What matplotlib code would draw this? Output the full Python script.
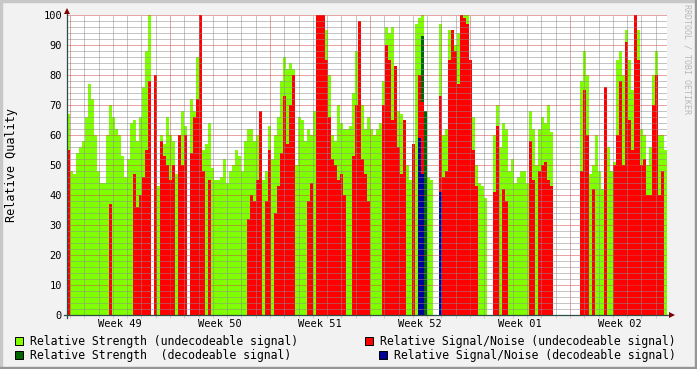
import matplotlib
matplotlib.use('Agg')
import matplotlib.pyplot as plt
from matplotlib.patches import Rectangle
from matplotlib.ticker import MultipleLocator

plt.rcParams['font.family'] = 'DejaVu Sans Mono'

# rrd samples: one every 0.21 days, first one 0.21 days before Monday of week 49
start_day = -0.21
step_day = 0.21

strength_undec = [
    67, 48, 47, 54, 56, 58, 66, 77, 72, 60, 48, 44, 44, 60, 70, 66, 62, 60, 53, 46,
    52, 64, 65, 58, 66, 76, 88, 100, 0, 48, 43, 60, 57, 66, 60, 58, 47, 55, 68, 63,
    0, 72, 68, 86, 90, 55, 57, 64, 49, 45, 45, 46, 52, 44, 48, 50, 55, 53, 48, 58,
    62, 62, 58, 60, 55, 45, 48, 63, 52, 60, 66, 78, 86, 82, 84, 82, 50, 66, 65, 58,
    62, 60, 68, 70, 100, 100, 95, 80, 60, 58, 70, 64, 62, 62, 63, 74, 88, 90, 70, 62,
    66, 62, 60, 62, 64, 78, 96, 94, 96, 80, 68, 67, 60, 50, 45, 0, 97, 99, 100, 55,
    46, 45, 0, 0, 97, 60, 62, 95, 90, 90, 94, 100, 100, 100, 85, 66, 50, 44, 43, 39,
    0, 0, 60, 70, 56, 64, 62, 48, 52, 44, 46, 48, 48, 44, 68, 62, 50, 62, 66, 64,
    70, 61, 0, 0, 0, 0, 0, 0, 0, 0, 0, 78, 88, 80, 47, 50, 60, 48, 42, 55,
    56, 48, 51, 85, 88, 80, 95, 85, 75, 100, 95, 62, 60, 50, 56, 80, 88, 60, 60, 55,
]
snr_undec = [
    55, 0, 0, 0, 0, 0, 0, 0, 0, 0, 0, 0, 0, 0, 37, 0, 0, 0, 0, 0,
    0, 0, 47, 36, 40, 46, 55, 78, 0, 80, 0, 58, 53, 50, 45, 50, 0, 60, 50, 60,
    0, 54, 66, 72, 100, 48, 0, 45, 0, 0, 0, 0, 0, 0, 0, 0, 0, 0, 0, 0,
    32, 40, 38, 45, 68, 0, 38, 55, 0, 34, 43, 54, 73, 57, 70, 80, 0, 0, 0, 0,
    38, 44, 0, 100, 100, 100, 85, 66, 52, 50, 45, 47, 40, 0, 0, 53, 70, 98, 52, 47,
    38, 0, 0, 0, 0, 70, 90, 85, 65, 83, 56, 47, 65, 0, 0, 57, 0, 80, 71, 0,
    0, 0, 0, 0, 73, 46, 48, 85, 95, 88, 77, 100, 99, 97, 85, 55, 43, 0, 0, 0,
    0, 0, 41, 63, 0, 42, 38, 0, 0, 0, 0, 0, 0, 0, 58, 45, 0, 48, 50, 51,
    45, 43, 0, 0, 0, 0, 0, 0, 0, 0, 0, 48, 75, 60, 0, 42, 0, 0, 0, 76,
    0, 0, 50, 60, 78, 50, 91, 65, 55, 100, 85, 50, 52, 40, 40, 70, 80, 40, 48, 0,
]
strength_dec = [
    0, 0, 0, 0, 0, 0, 0, 0, 0, 0, 0, 0, 0, 0, 0, 0, 0, 0, 0, 0,
    0, 0, 0, 0, 0, 0, 0, 0, 0, 0, 0, 0, 0, 0, 0, 0, 0, 0, 0, 0,
    0, 0, 0, 0, 0, 0, 0, 0, 0, 0, 0, 0, 0, 0, 0, 0, 0, 0, 0, 0,
    0, 0, 0, 0, 0, 0, 0, 0, 0, 0, 0, 0, 0, 0, 0, 0, 0, 0, 0, 0,
    0, 0, 0, 0, 0, 0, 0, 0, 0, 0, 0, 0, 0, 0, 0, 0, 0, 0, 0, 0,
    0, 0, 0, 0, 0, 0, 0, 0, 0, 0, 0, 0, 0, 0, 0, 0, 0, 0, 93, 68,
    0, 0, 0, 0, 67, 0, 0, 0, 0, 0, 0, 0, 0, 0, 0, 0, 0, 0, 0, 0,
    0, 0, 0, 0, 0, 0, 0, 0, 0, 0, 0, 0, 0, 0, 0, 0, 0, 0, 0, 0,
    0, 0, 0, 0, 0, 0, 0, 0, 0, 0, 0, 0, 0, 0, 0, 0, 0, 0, 0, 0,
    0, 0, 0, 0, 0, 0, 0, 0, 0, 0, 0, 0, 0, 0, 0, 0, 0, 0, 0, 0,
]
snr_dec = [
    0, 0, 0, 0, 0, 0, 0, 0, 0, 0, 0, 0, 0, 0, 0, 0, 0, 0, 0, 0,
    0, 0, 0, 0, 0, 0, 0, 0, 0, 0, 0, 0, 0, 0, 0, 0, 0, 0, 0, 0,
    0, 0, 0, 0, 0, 0, 0, 0, 0, 0, 0, 0, 0, 0, 0, 0, 0, 0, 0, 0,
    0, 0, 0, 0, 0, 0, 0, 0, 0, 0, 0, 0, 0, 0, 0, 0, 0, 0, 0, 0,
    0, 0, 0, 0, 0, 0, 0, 0, 0, 0, 0, 0, 0, 0, 0, 0, 0, 0, 0, 0,
    0, 0, 0, 0, 0, 0, 0, 0, 0, 0, 0, 0, 0, 0, 0, 0, 0, 59, 47, 0,
    0, 0, 0, 0, 41, 0, 0, 0, 0, 0, 0, 0, 0, 0, 0, 0, 0, 0, 0, 0,
    0, 0, 0, 0, 0, 0, 0, 0, 0, 0, 0, 0, 0, 0, 0, 0, 0, 0, 0, 0,
    0, 0, 0, 0, 0, 0, 0, 0, 0, 0, 0, 0, 0, 0, 0, 0, 0, 0, 0, 0,
    0, 0, 0, 0, 0, 0, 0, 0, 0, 0, 0, 0, 0, 0, 0, 0, 0, 0, 0, 0,
]

week_labels = ['Week 49', 'Week 50', 'Week 51', 'Week 52', 'Week 01', 'Week 02']
legend_labels = [
    'Relative Strength (undecodeable signal)',
    'Relative Strength  (decodeable signal)',
    'Relative Signal/Noise (undecodeable signal)',
    'Relative Signal/Noise (decodeable signal)',
]

# rrdtool default colours
c_back = '#F2F2F2'
c_shadea = '#C8C8C8'
c_shadeb = '#969696'
c_grid = (0.55, 0.55, 0.55, 0.35)
c_mgrid = (0.80, 0.30, 0.30, 0.30)
c_axis = '#2C4D43'
c_arrow = '#7F0000'
colors = ['#80FF00', '#006600', '#FF0000', '#000099']

W, H = 697, 369
fig = plt.figure(figsize=(W / 100, H / 100), dpi=100)
fig.patch.set_facecolor(c_back)

# 3d-ish frame around the image
fig.patches.append(Rectangle((0, 1 - 2 / H), 1, 2 / H, transform=fig.transFigure, color=c_shadea))
fig.patches.append(Rectangle((0, 0), 2 / W, 1, transform=fig.transFigure, color=c_shadea))
fig.patches.append(Rectangle((0, 0), 1, 2 / H, transform=fig.transFigure, color=c_shadeb))
fig.patches.append(Rectangle((1 - 2 / W, 0), 2 / W, 1, transform=fig.transFigure, color=c_shadeb))

ax = fig.add_axes([67 / W, 54 / H, 600 / W, 300 / H])
ax.set_facecolor('white')

n = len(strength_undec)
t = [start_day + step_day * i for i in range(n)]
series = [strength_undec, strength_dec, snr_undec, snr_dec]
for k, (vals, col) in enumerate(zip(series, colors)):
    ax.bar(t, vals, width=step_day, align='edge', color=col, linewidth=0,
           antialiased=False, zorder=1 + 0.1 * k)

ax.set_xlim(start_day, start_day + n * step_day)
ax.set_ylim(0, 100)

# grid: days / weeks, 2 / 10 units
ax.xaxis.set_major_locator(MultipleLocator(7))
ax.xaxis.set_minor_locator(MultipleLocator(1))
ax.yaxis.set_major_locator(MultipleLocator(10))
ax.yaxis.set_minor_locator(MultipleLocator(2))
ax.set_axisbelow(False)
ax.grid(True, which='minor', color=c_grid, linestyle=(0, (1, 1)), linewidth=0.72)
ax.grid(True, which='major', color=c_mgrid, linestyle=(0, (1, 1)), linewidth=0.72)

ax.set_xticklabels([])
ax.tick_params(axis='x', which='major', length=2, width=0.72, color=c_mgrid, direction='out')
ax.tick_params(axis='x', which='minor', length=2, width=0.72, color=c_grid, direction='out')
ax.tick_params(axis='y', which='both', length=0, pad=3.6, labelsize=7.5)
ax.set_yticks(range(0, 101, 10))
ax.set_yticklabels([str(v) for v in range(0, 101, 10)])

for s in ax.spines.values():
    s.set_visible(False)

# week labels centred in each week
for k, lab in enumerate(week_labels):
    ax.text(7 * k + 3.5, -9 / 300, lab, transform=ax.get_xaxis_transform(),
            ha='center', va='center', fontsize=7.5)

# axes with arrows
ax.plot([-3 / 600, 1 + 3 / 600], [0, 0], transform=ax.transAxes, clip_on=False,
        color=c_axis, lw=0.9, zorder=5)
ax.plot([0, 0], [-3 / 300, 1 + 3 / 300], transform=ax.transAxes, clip_on=False,
        color=c_axis, lw=0.9, zorder=5)
ax.plot([1 + 4.5 / 600], [0], transform=ax.transAxes, clip_on=False, marker='>',
        ms=4, color=c_arrow, mew=0, zorder=6)
ax.plot([0], [1 + 4 / 300], transform=ax.transAxes, clip_on=False, marker='^',
        ms=4, color=c_arrow, mew=0, zorder=6)

fig.text(12 / W, 1 - 165 / H, 'Relative Quality', rotation=90, ha='center',
         va='center', fontsize=8.5)
fig.text(687 / W, 1 - 4 / H, 'RRDTOOL / TOBI OETIKER', rotation=-90, ha='center',
         va='top', fontsize=6, color='#B8B8B8')

# legend (rrdtool style)
legend_pos = [(15, 337), (15, 351), (365, 337), (379, 351)]
legend_cols = [colors[0], colors[1], colors[2], colors[3]]
for (px, py), lab, col in zip(legend_pos, legend_labels, legend_cols):
    fig.patches.append(Rectangle((px / W, 1 - (py + 8) / H), 8 / W, 8 / H,
                                 transform=fig.transFigure, facecolor=col,
                                 edgecolor='black', linewidth=0.72))
    fig.text((px + 15) / W, 1 - (py + 4) / H, lab, ha='left', va='center', fontsize=8.3)

fig.savefig('out.png', dpi=100, facecolor=c_back)
